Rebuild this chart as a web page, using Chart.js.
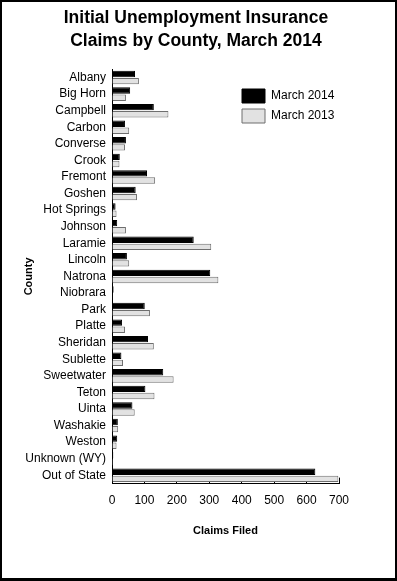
<!DOCTYPE html>
<html>
<head>
<meta charset="utf-8">
<script src="https://cdn.jsdelivr.net/npm/chart.js@4"></script>
<style>
html,body{margin:0;padding:0;background:#fff;}
#wrap{width:397px;height:581px;box-sizing:border-box;border:2px solid #000;border-bottom-width:3px;background:#fff;}
canvas{display:block;}
</style>
</head>
<body>
<div id="wrap"><canvas id="c" width="393" height="576"></canvas></div>
<script>
const categories = ['Albany','Big Horn','Campbell','Carbon','Converse','Crook','Fremont','Goshen','Hot Springs','Johnson','Laramie','Lincoln','Natrona','Niobrara','Park','Platte','Sheridan','Sublette','Sweetwater','Teton','Uinta','Washakie','Weston','Unknown (WY)','Out of State'];
const march2014 = [71,56,129,40,43,24,108,73,11,16,252,46,303,5,101,31,111,29,158,103,63,18,16,4,627];
const march2013 = [83,43,174,53,40,23,133,77,14,43,306,53,328,2,117,40,129,34,190,131,70,19,14,3,698];
const seriesNames = ['March 2014','March 2013'];
const xTicks = [0,100,200,300,400,500,600,700];
const titleLines = ['Initial Unemployment Insurance','Claims by County, March 2014'];

const FONT = "'Liberation Sans', Arial, sans-serif";

const placer = {
  id: 'placer',
  beforeDraw(chart) {
    const lg = chart.legend;
    if (lg) {
      const pad = lg.options.labels.padding;
      lg.left = 240 - pad;
      lg.top = 87 - pad;
    }
    const tb = chart.titleBlock;
    if (tb) {
      tb.left = 0;
      tb.right = 388;
    }
  }
};

new Chart(document.getElementById('c'), {
  type: 'bar',
  data: {
    labels: categories,
    datasets: [
      {label: seriesNames[0], data: march2014, backgroundColor: '#000000', borderColor: '#000000', borderWidth: 1, categoryPercentage: 0.86, barPercentage: 0.9},
      {label: seriesNames[1], data: march2013, backgroundColor: '#e2e2e2', borderColor: '#6e6e6e', borderWidth: 1, categoryPercentage: 0.86, barPercentage: 0.9}
    ]
  },
  options: {
    indexAxis: 'y',
    responsive: false,
    animation: false,
    layout: {padding: {left: 10, right: 56, top: 0, bottom: 0}},
    plugins: {
      title: {
        display: true,
        text: titleLines,
        color: '#000',
        font: {family: FONT, size: 17.5, weight: 'bold', lineHeight: 1.35},
        padding: {top: 4, bottom: 16}
      },
      legend: {
        position: 'chartArea',
        align: 'start',
        labels: {
          color: '#000',
          font: {family: FONT, size: 12},
          boxWidth: 23,
          boxHeight: 14,
          padding: 6
        }
      },
      tooltip: {enabled: false}
    },
    scales: {
      x: {
        min: 0, max: 700,
        z: 1,
        afterBuildTicks(scale) { scale.ticks = xTicks.map(v => ({value: v})); },
        afterFit(scale) { scale.height = 94.4; },
        border: {display: true, color: '#000', width: 1},
        grid: {drawOnChartArea: false, drawTicks: true, tickLength: -6, color: '#000'},
        ticks: {color: '#000', font: {family: FONT, size: 12}, padding: 16, maxRotation: 0},
        title: {display: true, text: 'Claims Filed', color: '#000', font: {family: FONT, size: 11, weight: 'bold'}, padding: {top: 0, bottom: 40}}
      },
      y: {
        afterFit(scale) { scale.width = 100; },
        border: {display: true, color: '#000', width: 1},
        grid: {drawOnChartArea: false, drawTicks: false},
        ticks: {color: '#000', font: {family: FONT, size: 12}, padding: 6, autoSkip: false},
        title: {display: true, text: 'County', color: '#000', font: {family: FONT, size: 11, weight: 'bold'}, padding: {top: 10, bottom: 0}}
      }
    }
  },
  plugins: [placer]
});
</script>
</body>
</html>
